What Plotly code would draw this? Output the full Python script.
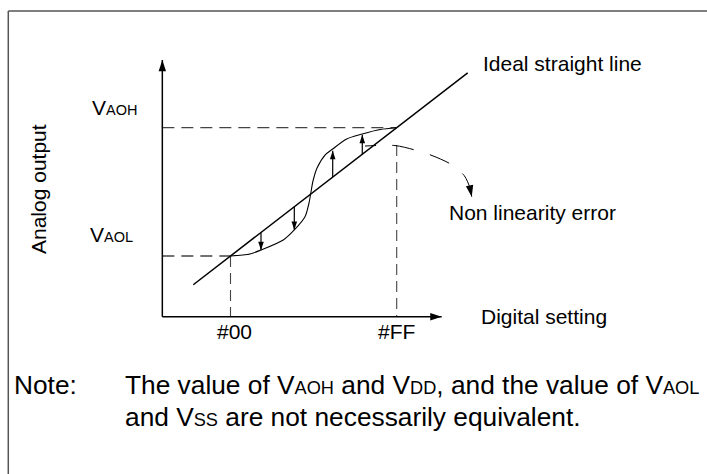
import plotly.graph_objects as go

# ---------------- data (digital code units, normalised analog output: VAOL=0, VAOH=1)
curve_codes = [0, 29.9, 46.8, 81.0, 97.9, 114.3, 120.4, 123.5, 126.6, 132.8, 145.0, 156.8, 178.3, 202.2, 229.4, 255]
curve_out = [0, 0.016, 0.047, 0.125, 0.203, 0.306, 0.413, 0.499, 0.585, 0.686, 0.787, 0.834, 0.912, 0.951, 0.986, 1.0]

ideal_codes = [-57.1, 363.9]
ideal_out = [-0.224, 1.427]

err_codes = [46.8, 97.9, 156.8, 202.2]
err_ideal = [0.1835, 0.384, 0.615, 0.793]
err_actual = [0.045, 0.203, 0.82, 0.945]

axis_origin = (-104.6, -0.473)
x_axis_end = 324.0
y_axis_end = 1.528

code_00, code_FF = 0, 255
out_L, out_H = 0.0, 1.0
ff_dash_top = 0.865

leader_codes = [206.4, 252.4, 283.1, 309.2, 338.3, 358.7, 367.5, 370.1]
leader_out = [0.857, 0.861, 0.826, 0.783, 0.715, 0.626, 0.530, 0.462]

tick_labels = ["#00", "#FF"]

# ---------------- pixel frame helpers (layout only)
W, H = 707, 474
px_per_code = 1 / 1.5343
px_per_out = 1 / 0.007794
x0_px, y0_px = 230.5, 256.0
xr = [(0 - x0_px) / px_per_code, (W - x0_px) / px_per_code]
yr = [(y0_px - H) / px_per_out, (y0_px - 0) / px_per_out]

def P(px, py):
    return px / W, 1 - py / H

FONT = "Liberation Sans, Arial, Helvetica, sans-serif"
BLACK = "#000000"
DASH_C = "#444444"

fig = go.Figure()

# dashed guide lines
fig.add_trace(go.Scatter(x=[axis_origin[0], code_FF], y=[out_H, out_H], mode="lines",
                         line=dict(color=DASH_C, width=1.3, dash="12px,7px"), hoverinfo="skip"))
fig.add_trace(go.Scatter(x=[axis_origin[0], code_00], y=[out_L, out_L], mode="lines",
                         line=dict(color=DASH_C, width=1.3, dash="12px,7px"), hoverinfo="skip"))
fig.add_trace(go.Scatter(x=[code_00, code_00], y=[out_L, axis_origin[1]], mode="lines",
                         line=dict(color=DASH_C, width=1.1, dash="11px,6px"), hoverinfo="skip"))
fig.add_trace(go.Scatter(x=[code_FF, code_FF], y=[ff_dash_top, axis_origin[1]], mode="lines",
                         line=dict(color=DASH_C, width=1.1, dash="11px,6px"), hoverinfo="skip"))

# axes
fig.add_trace(go.Scatter(x=[axis_origin[0], x_axis_end], y=[axis_origin[1], axis_origin[1]], mode="lines",
                         line=dict(color=BLACK, width=1.5), hoverinfo="skip"))
fig.add_trace(go.Scatter(x=[axis_origin[0], axis_origin[0]], y=[axis_origin[1], y_axis_end], mode="lines",
                         line=dict(color=BLACK, width=1.5), hoverinfo="skip"))
fig.add_trace(go.Scatter(x=[x_axis_end, axis_origin[0]], y=[axis_origin[1], y_axis_end], mode="markers",
                         marker=dict(symbol="arrow", size=12, angle=[90, 0], color=BLACK,
                                     line=dict(width=0)), hoverinfo="skip"))

# ideal line
fig.add_trace(go.Scatter(x=ideal_codes, y=ideal_out, mode="lines",
                         line=dict(color=BLACK, width=1.5), hoverinfo="skip"))
# actual curve
fig.add_trace(go.Scatter(x=curve_codes, y=curve_out, mode="lines",
                         line=dict(color=BLACK, width=1.1, shape="spline", smoothing=0.8), hoverinfo="skip"))

# error arrows
ex, ey = [], []
for c, a, b in zip(err_codes, err_ideal, err_actual):
    ex += [c, c, None]
    ey += [a, b, None]
fig.add_trace(go.Scatter(x=ex, y=ey, mode="lines", line=dict(color=BLACK, width=1.2), hoverinfo="skip"))
fig.add_trace(go.Scatter(x=err_codes, y=err_actual, mode="markers",
                         marker=dict(symbol="arrow", size=9,
                                     angle=[180 if b < a else 0 for a, b in zip(err_ideal, err_actual)],
                                     color=BLACK, line=dict(width=0)), hoverinfo="skip"))

# leader to "Non linearity error"
fig.add_trace(go.Scatter(x=leader_codes, y=leader_out, mode="lines",
                         line=dict(color=BLACK, width=1.0, shape="spline", smoothing=0.8,
                                   dash="11px,16px,22px,17px,21px,17px,60px"), hoverinfo="skip"))
fig.add_trace(go.Scatter(x=[leader_codes[-1]], y=[leader_out[-1]], mode="markers",
                         marker=dict(symbol="arrow", size=12, angle=169, color=BLACK, line=dict(width=0)),
                         hoverinfo="skip"))

ann = []
def text(px, py, t, size, xanchor="left", angle=0):
    x, y = P(px, py)
    ann.append(dict(x=x, y=y, xref="paper", yref="paper", text=t, showarrow=False,
                    xanchor=xanchor, yanchor="middle", textangle=angle,
                    font=dict(family=FONT, size=size, color=BLACK)))

fs = 21
sm = '<span style="font-size:14.5px">%s</span>'
text(90, 114.5 - 7.3, "V" + sm % "AOH", fs)
text(88, 241.7 - 7.3, "V" + sm % "AOL", fs)
text(38, 189, "Analog output", fs, xanchor="center", angle=-90)
text(480.5, 71 - 7.3, "Ideal straight line", fs)
text(447, 220 - 7.3, "Non linearity error", fs)
text(479, 324 - 7.3, "Digital setting", fs)
text(234.5, 339 - 7.3, tick_labels[0], fs, xanchor="center")
text(397, 339 - 7.3, tick_labels[1], fs, xanchor="center")

nf = 26.3
ns = '<span style="font-size:18.2px">%s</span>'
text(12, 394 - 9, "Note:", nf)
text(123, 394 - 9, "The value of V" + ns % "AOH" + " and V" + ns % "DD" + ", and the value of V" + ns % "AOL", nf)
text(123, 426 - 9, "and V" + ns % "SS" + " are not necessarily equivalent.", nf)

shapes = [
    dict(type="line", xref="paper", yref="paper", x0=P(8.3, 0)[0], x1=1.0, y0=P(0, 11)[1], y1=P(0, 11)[1],
         line=dict(color="#555555", width=1.5)),
    dict(type="line", xref="paper", yref="paper", x0=P(8.3, 0)[0], x1=P(8.3, 0)[0], y0=P(0, 11)[1], y1=0,
         line=dict(color="#555555", width=1.5)),
]

fig.update_layout(
    width=W, height=H, margin=dict(l=0, r=0, t=0, b=0, pad=0),
    paper_bgcolor="white", plot_bgcolor="white", showlegend=False,
    xaxis=dict(visible=False, range=xr, fixedrange=True),
    yaxis=dict(visible=False, range=yr, fixedrange=True),
    annotations=ann, shapes=shapes,
)

fig.write_html("out.html", config={"displayModeBar": False},
               post_script="document.body.style.margin='0';document.body.style.overflow='hidden';")
